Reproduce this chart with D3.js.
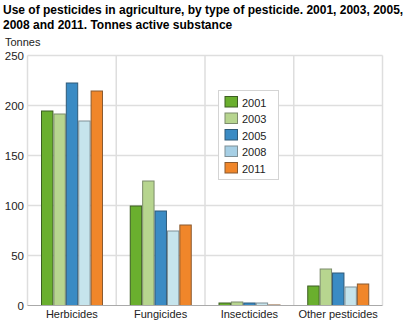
<!DOCTYPE html>
<html>
<head>
<meta charset="utf-8">
<script src="https://cdn.jsdelivr.net/npm/d3@7"></script>
<style>
  body { margin: 0; background: #fff; }
  svg { display: block; font-family: "Liberation Sans", Arial, sans-serif; }
</style>
</head>
<body>
<div id="figure"></div>
<script>
// pesticide use, tonnes active substance
const categories = ['Herbicides', 'Fungicides', 'Insecticides', 'Other pesticides']
const years = ['2001', '2003', '2005', '2008', '2011']
const values = {
  '2001': [195, 100, 3, 20],
  '2003': [192, 125, 4, 37],
  '2005': [223, 95, 3, 33],
  '2008': [185, 75, 3, 19],
  '2011': [215, 81, 1, 22]
}
const yTicks = [0, 50, 100, 150, 200, 250]

const colors = ['#6aaf2e', '#b7d58f', '#3a8bc4', '#c6e4ec', '#f0862a']
const strokes = ['#3d5e22', '#7d8c6c', '#2f5a78', '#7f9096', '#8a5a30']
const legendColors = ['#6aaf2e', '#b7d58f', '#3a8bc4', '#a6cfe5', '#f0862a']

const width = 404, height = 322
const margin = { LEFT: 27.5, RIGHT: 21.5, TOP: 55.5, BOTTOM: 16.5 }

const svg = d3.select('#figure').append('svg').attr('width', width).attr('height', height)

// title
const title = svg.append('text').attr('x', 3).attr('y', 13.5).attr('font-weight', 'bold').attr('font-size', 12).attr('fill', '#000')
title.append('tspan').attr('x', 3).text('Use of pesticides in agriculture, by type of pesticide. 2001, 2003, 2005,')
title.append('tspan').attr('x', 3).attr('dy', 15.5).text('2008 and 2011. Tonnes active substance')

svg.append('text').attr('x', 5).attr('y', 46).attr('font-size', 11).attr('fill', '#222').text('Tonnes')

const x0 = d3.scaleBand().domain(categories).range([margin.LEFT, width - margin.RIGHT])
const bw = x0.bandwidth()
const x1 = d3.scaleBand().domain(years).range([13.5, bw - 13.25])
const y = d3.scaleLinear().domain([0, 250]).range([height - margin.BOTTOM, margin.TOP])

const g = svg.append('g')

// horizontal grid
g.append('g').selectAll('line').data(yTicks.slice(1)).enter().append('line')
  .attr('x1', margin.LEFT).attr('x2', width - margin.RIGHT)
  .attr('y1', d => y(d)).attr('y2', d => y(d))
  .attr('stroke', '#dedede').attr('stroke-width', 1.5)

// vertical separators between categories
const seps = categories.map(c => x0(c)).concat([x0(categories[3]) + bw])
g.append('g').selectAll('line').data(seps).enter().append('line')
  .attr('x1', d => d).attr('x2', d => d)
  .attr('y1', margin.TOP).attr('y2', y(0))
  .attr('stroke', '#dedede').attr('stroke-width', 1.5)

// y tick labels
g.append('g').selectAll('text').data(yTicks).enter().append('text')
  .attr('x', 24).attr('y', d => y(d) + 4)
  .attr('text-anchor', 'end').attr('font-size', 11.5).attr('fill', '#222')
  .text(d => d)

// bars
years.forEach((yr, i) => {
  g.append('g').selectAll('rect').data(values[yr]).enter().append('rect')
    .attr('x', (d, j) => x0(categories[j]) + x1(yr) + 0.5)
    .attr('y', d => y(d) + 0.5)
    .attr('width', x1.bandwidth() - 1)
    .attr('height', d => Math.max(0, y(0) - y(d) - 0.5))
    .attr('fill', colors[i])
    .attr('stroke', strokes[i]).attr('stroke-width', 1)
})

// baseline
g.append('line').attr('x1', margin.LEFT).attr('x2', width - margin.RIGHT)
  .attr('y1', y(0)).attr('y2', y(0)).attr('stroke', '#aaa').attr('stroke-width', 1)

// category labels
g.append('g').selectAll('text').data(categories).enter().append('text')
  .attr('x', d => x0(d) + bw / 2).attr('y', 318)
  .attr('text-anchor', 'middle').attr('font-size', 11).attr('fill', '#222')
  .text(d => d)

// legend
const legend = svg.append('g').attr('transform', 'translate(218.5,90.5)')
legend.append('rect').attr('width', 60).attr('height', 89)
  .attr('fill', '#fff').attr('stroke', '#d4d4d4').attr('stroke-width', 1)
years.forEach((yr, i) => {
  const row = legend.append('g').attr('transform', `translate(6.5,${6 + i * 16.5})`)
  row.append('rect').attr('width', 12.5).attr('height', 10.5)
    .attr('fill', legendColors[i]).attr('stroke', strokes[i]).attr('stroke-width', 1)
  row.append('text').attr('x', 17).attr('y', 10).attr('font-size', 11).attr('fill', '#222').text(yr)
})
</script>
</body>
</html>
